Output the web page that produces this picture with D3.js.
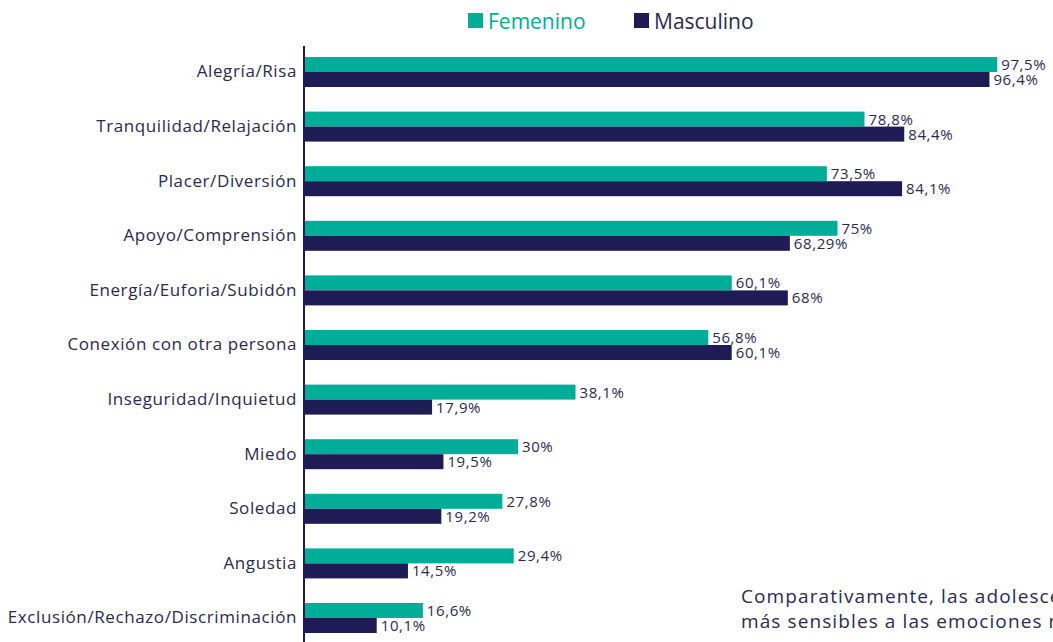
<!DOCTYPE html>
<html>
<head>
<meta charset="utf-8">
<script src="https://cdn.jsdelivr.net/npm/d3@7"></script>
<style>
  html, body { margin: 0; padding: 0; background: #fff; overflow: hidden; }
  svg { display: block; font-family: "Open Sans", "Noto Sans", sans-serif; }
</style>
</head>
<body>
<svg width="1053" height="642"></svg>
<script>
const categories = ["Alegría/Risa", "Tranquilidad/Relajación", "Placer/Diversión", "Apoyo/Comprensión",
  "Energía/Euforia/Subidón", "Conexión con otra persona", "Inseguridad/Inquietud", "Miedo",
  "Soledad", "Angustia", "Exclusión/Rechazo/Discriminación"];
const femenino = [97.5, 78.8, 73.5, 75, 60.1, 56.8, 38.1, 30, 27.8, 29.4, 16.6];
const masculino = [96.4, 84.4, 84.1, 68.29, 68, 60.1, 17.9, 19.5, 19.2, 14.5, 10.1];
const series = ["Femenino", "Masculino"];
const colors = ["#00ad98", "#1f1b55"];
const note = ["Comparativamente, las adolescentes son", "más sensibles a las emociones negativas"];

const textColor = "#2b2a52";
const svg = d3.select("svg");

// escalas
const x = d3.scaleLinear().domain([0, 100]).range([305, 1015]);
const y = d3.scaleBand().domain(categories).range([44.7, 645.3]);
const barH = 15;

const rows = categories.map((c, i) => ({ cat: c, vals: [femenino[i], masculino[i]] }));

// barras
rows.forEach(r => {
  r.vals.forEach((v, k) => {
    const top = y(r.cat) + y.bandwidth() / 2 - barH + k * barH;
    svg.append("rect")
      .attr("x", x(0))
      .attr("y", top)
      .attr("width", x(v) - x(0))
      .attr("height", barH)
      .style("fill", colors[k]);
    svg.append("text")
      .attr("x", x(v) + 4)
      .attr("y", top + barH / 2)
      .attr("dy", "0.36em")
      .style("font-size", "15px")
      .style("letter-spacing", "0.6px")
      .style("fill", textColor)
      .text(String(v).replace(".", ",") + "%");
  });
});

// eje vertical
const axisY = d3.axisLeft(y).tickSize(0).tickPadding(7);
const gY = svg.append("g")
  .attr("transform", `translate(${x(0) - 1}, 0)`)
  .call(axisY);
gY.select(".domain").remove();
gY.selectAll("text")
  .style("font-size", "17px")
  .style("letter-spacing", "0.6px")
  .style("font-family", "'Open Sans', sans-serif")
  .style("fill", textColor);
svg.append("line")
  .attr("x1", x(0) - 1).attr("x2", x(0) - 1)
  .attr("y1", 46).attr("y2", 642)
  .style("stroke", "#1f1b55")
  .style("stroke-width", 2);

// leyenda
const legX = [468, 634];
series.forEach((s, k) => {
  svg.append("rect")
    .attr("x", legX[k]).attr("y", 13)
    .attr("width", 15).attr("height", 15)
    .style("fill", colors[k]);
  svg.append("text")
    .attr("x", legX[k] + 20).attr("y", 21)
    .attr("dy", "0.36em")
    .style("font-size", "21px")
    .style("fill", k == 0 ? colors[0] : textColor)
    .text(s);
});

// nota
note.forEach((t, i) => {
  svg.append("text")
    .attr("x", 741).attr("y", 603 + i * 25)
    .style("font-size", "19px")
    .style("letter-spacing", "1.1px")
    .style("fill", textColor)
    .text(t);
});
</script>
</body>
</html>
